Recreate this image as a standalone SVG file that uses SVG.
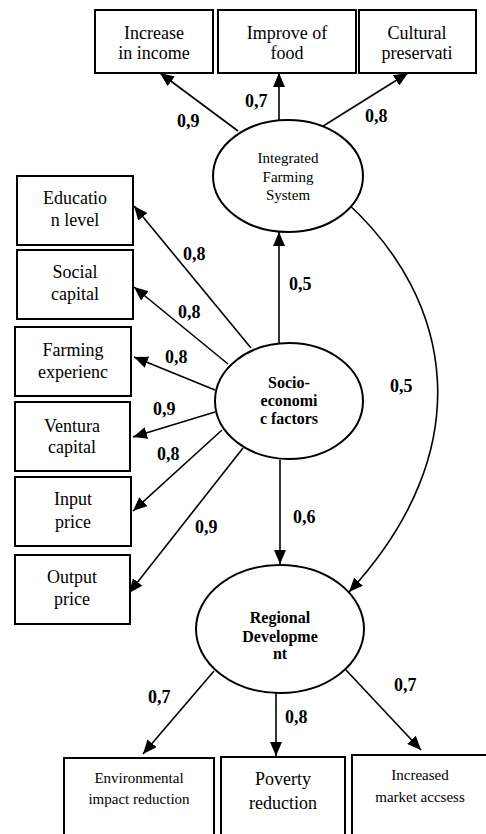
<svg xmlns="http://www.w3.org/2000/svg" width="486" height="834" viewBox="0 0 486 834" font-family="'Liberation Serif', 'Times New Roman', Times, serif">
<style>
.box{fill:#fff;stroke:#000;stroke-width:2}
.ell{fill:#fff;stroke:#000;stroke-width:2}
.t{font-size:18px;text-anchor:middle}
.ts{font-size:15px;text-anchor:middle}
.tb{font-size:16px;font-weight:bold;text-anchor:middle}
.lb{font-size:18px;font-weight:bold}
.c{fill:none;stroke:#000;stroke-width:1.6;marker-end:url(#ah)}
</style>
<defs>
<marker id="ah" markerUnits="userSpaceOnUse" markerWidth="14" markerHeight="12" refX="14" refY="6" orient="auto">
<path d="M0,0 L14,6 L0,12 z" fill="#000"/>
</marker>
</defs>
<rect width="486" height="834" fill="#fff"/>
<g id="connectors">
<line class="c" x1="238" y1="131" x2="160" y2="73"/>
<line class="c" x1="279" y1="121" x2="279" y2="73"/>
<line class="c" x1="320" y1="128" x2="408" y2="73"/>
<line class="c" x1="279" y1="343" x2="279" y2="232"/>
<line class="c" x1="251" y1="348" x2="134" y2="206"/>
<line class="c" x1="228" y1="364" x2="134" y2="287"/>
<line class="c" x1="215" y1="390" x2="134" y2="357"/>
<line class="c" x1="215" y1="412" x2="133" y2="437"/>
<line class="c" x1="222" y1="430" x2="133" y2="511"/>
<line class="c" x1="243" y1="448" x2="129" y2="593"/>
<line class="c" x1="280" y1="460" x2="280" y2="564"/>
<path class="c" d="M345,201 C455,300 480,450 349,592"/>
<line class="c" x1="214" y1="671" x2="143" y2="754"/>
<line class="c" x1="276" y1="693" x2="276" y2="756"/>
<line class="c" x1="346" y1="670" x2="421" y2="750"/>
</g>
<g id="labels">
<text class="lb" x="177" y="127">0,9</text>
<text class="lb" x="245" y="107">0,7</text>
<text class="lb" x="365" y="122">0,8</text>
<text class="lb" x="289" y="290">0,5</text>
<text class="lb" x="183" y="260">0,8</text>
<text class="lb" x="178" y="318">0,8</text>
<text class="lb" x="165" y="363">0,8</text>
<text class="lb" x="153" y="415">0,9</text>
<text class="lb" x="157" y="460">0,8</text>
<text class="lb" x="195" y="533">0,9</text>
<text class="lb" x="293" y="523">0,6</text>
<text class="lb" x="390" y="392">0,5</text>
<text class="lb" x="148" y="703">0,7</text>
<text class="lb" x="285" y="723">0,8</text>
<text class="lb" x="394" y="691">0,7</text>
</g>
<g id="income"><rect class="box" x="95" y="10" width="118" height="63"/><text class="t" x="154" y="39">Increase</text><text class="t" x="154" y="59">in income</text></g>
<g id="food"><rect class="box" x="218" y="10" width="138" height="63"/><text class="t" x="287" y="39">Improve of</text><text class="t" x="287" y="59">food</text></g>
<g id="cultural"><rect class="box" x="359" y="10" width="117" height="63"/><text class="t" x="417" y="39">Cultural</text><text class="t" x="417" y="59">preservati</text></g>
<g id="ifs"><ellipse class="ell" cx="288" cy="176" rx="75" ry="56"/><text class="ts" x="288" y="163">Integrated</text><text class="ts" x="288" y="182">Farming</text><text class="ts" x="288" y="200">System</text></g>
<g id="education"><rect class="box" x="17" y="176" width="116" height="69"/><text class="t" x="75" y="204">Educatio</text><text class="t" x="75" y="226">n level</text></g>
<g id="social"><rect class="box" x="17" y="250" width="116" height="69"/><text class="t" x="75" y="278">Social</text><text class="t" x="75" y="300">capital</text></g>
<g id="farming"><rect class="box" x="15" y="327" width="116" height="69"/><text class="t" x="73" y="356">Farming</text><text class="t" x="73" y="378">experienc</text></g>
<g id="ventura"><rect class="box" x="15" y="402" width="115" height="69"/><text class="t" x="72" y="432">Ventura</text><text class="t" x="72" y="453">capital</text></g>
<g id="input"><rect class="box" x="15" y="477" width="116" height="69"/><text class="t" x="73" y="505">Input</text><text class="t" x="73" y="528">price</text></g>
<g id="output"><rect class="box" x="15" y="555" width="115" height="69"/><text class="t" x="72" y="583">Output</text><text class="t" x="72" y="605">price</text></g>
<g id="socio"><ellipse class="ell" cx="289" cy="401" rx="74" ry="58"/><text class="tb" x="289" y="388">Socio-</text><text class="tb" x="289" y="406">economi</text><text class="tb" x="289" y="424">c factors</text></g>
<g id="regional"><ellipse class="ell" cx="280" cy="629" rx="84" ry="64"/><text class="tb" x="280" y="623">Regional</text><text class="tb" x="280" y="642">Developme</text><text class="tb" x="280" y="659">nt</text></g>
<g id="environmental"><rect class="box" x="64" y="758" width="150" height="90"/><text class="ts" x="139" y="783">Environmental</text><text class="ts" x="139" y="804">impact reduction</text></g>
<g id="poverty"><rect class="box" x="221" y="757" width="124" height="90"/><text class="t" x="283" y="785">Poverty</text><text class="t" x="283" y="809">reduction</text></g>
<g id="market"><rect class="box" x="352" y="755" width="140" height="90"/><text class="ts" x="420" y="780">Increased</text><text class="ts" x="420" y="802">market accsess</text></g>
</svg>
